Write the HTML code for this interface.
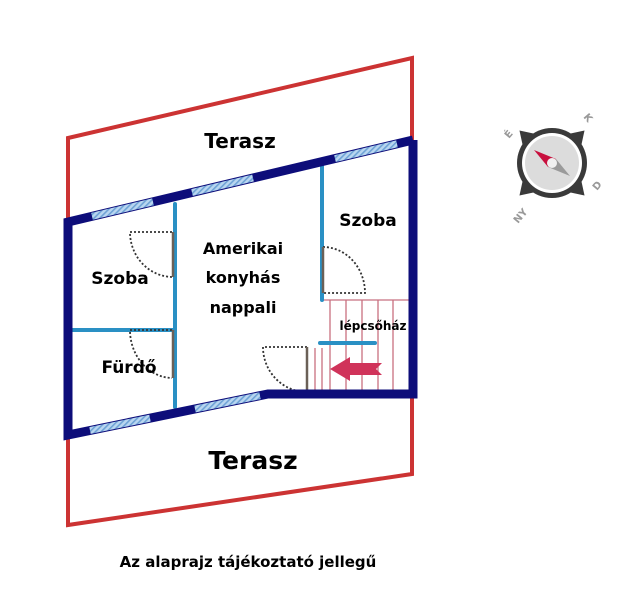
<!DOCTYPE html>
<html><head><meta charset="utf-8"><style>
html,body{margin:0;padding:0;background:#fff;}
svg{display:block;}
text{font-family:"DejaVu Sans","Liberation Sans",sans-serif;font-weight:bold;fill:#000;}
</style></head><body>
<svg width="640" height="608" viewBox="0 0 640 608" xmlns="http://www.w3.org/2000/svg">
<defs>
<pattern id="h" width="4" height="4" patternUnits="userSpaceOnUse" patternTransform="rotate(45)">
<rect width="4" height="4" fill="#b9d6f0"/><rect width="1.6" height="4" fill="#6fa3d6"/>
</pattern>
</defs>
<polyline points="68,222 68,138 412,58 412,140" fill="none" stroke="#cc3333" stroke-width="4"/>
<polyline points="68,432 68,525 412,474 412,396" fill="none" stroke="#cc3333" stroke-width="4"/>
<g stroke="#c87080" stroke-width="1.3">
<line x1="322" y1="300" x2="410" y2="300"/>
<line x1="330" y1="300" x2="330" y2="393"/>
<line x1="346" y1="300" x2="346" y2="393"/>
<line x1="362" y1="300" x2="362" y2="393"/>
<line x1="378" y1="300" x2="378" y2="393"/>
<line x1="393" y1="300" x2="393" y2="393"/>
<line x1="315" y1="348" x2="315" y2="393"/>
<line x1="322" y1="348" x2="322" y2="393"/>
</g>
<g stroke="#2a90c4" stroke-width="4" stroke-linecap="round">
<line x1="175" y1="204" x2="175" y2="407"/>
<line x1="70" y1="330" x2="175" y2="330"/>
<line x1="322" y1="166" x2="322" y2="300"/>
<line x1="320" y1="343" x2="375" y2="343"/>
</g>
<g fill="none" stroke="#333" stroke-width="1.8" stroke-dasharray="2,2">
<path d="M172,232 L130,232 A43,45 0 0 0 172,277"/>
<path d="M172,330 L130,330 A43,48 0 0 0 172,378"/>
<path d="M323,247 A42,46 0 0 1 365,293 L323,293"/>
<path d="M307,347 L263,347 A44,45 0 0 0 307,392"/>
</g>
<g stroke="#6b6057" stroke-width="2.5">
<line x1="173" y1="232" x2="173" y2="277"/>
<line x1="173" y1="330" x2="173" y2="378"/>
<line x1="323" y1="247" x2="323" y2="293"/>
<line x1="307" y1="347" x2="307" y2="392"/>
</g>
<polyline points="413,140 68,222 68,435 268,394 413,394 413,140" fill="none" stroke="#0d0d7a" stroke-width="9" stroke-linejoin="miter"/>
<g stroke="url(#h)" stroke-width="7">
<line x1="92" y1="216.3" x2="153" y2="201.8"/>
<line x1="192" y1="192.5" x2="253" y2="178"/>
<line x1="335" y1="158.6" x2="397" y2="143.8"/>
<line x1="90" y1="430.5" x2="150" y2="418.2"/>
<line x1="195" y1="409" x2="260" y2="395.7"/>
</g>
<polygon points="330,369 350,357 350,363 382,363 376,369 382,375 350,375 350,381" fill="#d0335a"/>
<text x="240" y="148" font-size="20" text-anchor="middle">Terasz</text>
<text x="253" y="469" font-size="25" text-anchor="middle">Terasz</text>
<text x="120" y="284" font-size="17" text-anchor="middle">Szoba</text>
<text x="368" y="226" font-size="17" text-anchor="middle">Szoba</text>
<text x="129" y="373" font-size="17" text-anchor="middle">Fürdő</text>
<text x="243" y="254" font-size="16" text-anchor="middle">Amerikai</text>
<text x="243" y="283" font-size="16" text-anchor="middle">konyhás</text>
<text x="243" y="313" font-size="16" text-anchor="middle">nappali</text>
<text x="373" y="330" font-size="12" text-anchor="middle">lépcsőház</text>
<text x="248" y="567" font-size="15" text-anchor="middle">Az alaprajz tájékoztató jellegű</text>
<g transform="translate(552,163)">
<g transform="rotate(-45)" fill="#3a3a3a">
<polygon points="-9,-32 0,-46 9,-32"/>
<polygon points="-9,32 0,46 9,32"/>
<polygon points="-32,-9 -46,0 -32,9"/>
<polygon points="32,-9 46,0 32,9"/>
</g>
<circle r="35" fill="#3a3a3a"/>
<circle r="30" fill="#fff"/>
<circle r="27" fill="#dcdcdc"/>
<polygon points="-18,-13 4,-4 -4,4" fill="#c8103e"/>
<polygon points="18,13 4,-4 -4,4" fill="#9a9a9a"/>
<circle r="5" fill="#f0f0f0"/>
</g>
<g>
<text x="509" y="139" font-size="10" style="fill:#999" transform="rotate(-50 509 139)">É</text>
<text x="583" y="117" font-size="10" style="fill:#999" transform="rotate(50 583 117)">K</text>
<text x="597" y="191" font-size="10" style="fill:#999" transform="rotate(-50 597 191)">D</text>
<text x="518" y="224" font-size="10" style="fill:#999" transform="rotate(-50 518 224)">NY</text>
</g>
</svg>
</body></html>
